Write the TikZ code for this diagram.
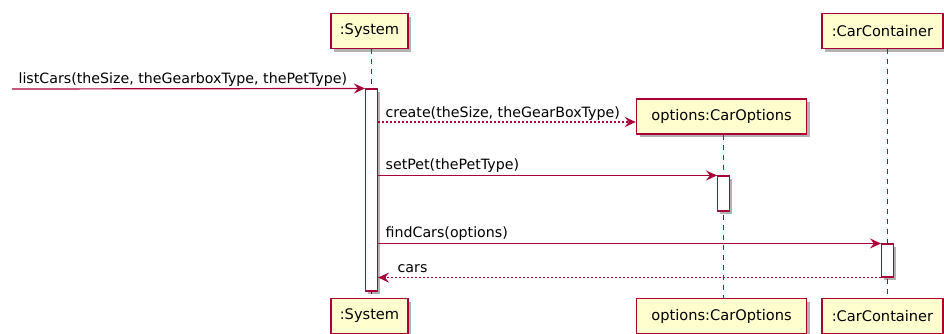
\documentclass[tikz,border=0pt]{standalone}
\usepackage{fontspec}
\setmainfont{DejaVu Sans}
\usetikzlibrary{arrows.meta,shadows}
\definecolor{umlborder}{HTML}{A80036}
\definecolor{umlfill}{HTML}{FEFECE}
\begin{document}
\begin{tikzpicture}[x=1pt,y=-1pt,
  participant/.style={draw=umlborder, line width=1.5pt, fill=umlfill,
    minimum height=35pt, inner sep=0pt, font=\fontsize{14.6}{16}\selectfont,
    drop shadow={shadow xshift=3pt, shadow yshift=-3pt, opacity=0.3, fill=black}},
  activation/.style={draw=umlborder, line width=1.1pt, fill=white,
    minimum width=12pt, inner sep=0pt,
    drop shadow={shadow xshift=2.5pt, shadow yshift=-2.5pt, opacity=0.3, fill=black}},
  lifeline/.style={draw=umlborder, line width=1.1pt, dash pattern=on 5pt off 5pt},
  msg/.style={draw=umlborder, line width=1.2pt,
    -{Stealth[length=11pt,width=10pt,inset=4pt]}},
  reply/.style={msg, dash pattern=on 2pt off 2pt},
  msglabel/.style={font=\fontsize{14.2}{16}\selectfont, anchor=base west,
    inner sep=0pt, text=black}]
  % page
  \fill[white] (0,0) rectangle (944,333);
  \useasboundingbox (0,0) rectangle (944,333);
  \clip (0,0) rectangle (944,333);

  % lifeline axes
  \coordinate (sysLL) at (371.5,0);
  \coordinate (optLL) at (723.5,0);
  \coordinate (ccLL)  at (887.5,0);

  % participants
  \node[participant, minimum width=77pt]  (sysTop) at (369.5,31)  {:System};
  \node[participant, minimum width=77pt]  (sysBot) at (369.5,316) {:System};
  \node[participant, minimum width=170pt] (optTop) at (721.5,116.5) {options:CarOptions};
  \node[participant, minimum width=170pt] (optBot) at (721.5,316) {options:CarOptions};
  \node[participant, minimum width=121pt] (ccTop)  at (882.5,31)  {:CarContainer};
  \node[participant, minimum width=121pt] (ccBot)  at (882.5,316) {:CarContainer};

  % lifelines
  \draw[lifeline] (sysTop.south -| sysLL) -- (sysBot.north -| sysLL);
  \draw[lifeline] (optTop.south -| optLL) -- (optBot.north -| optLL);
  \draw[lifeline] (ccTop.south -| ccLL)   -- (ccBot.north -| ccLL);

  % activation bars
  \node[activation, minimum height=202pt] (actSys) at (371.5,190) {};
  \node[activation, minimum height=35pt]  (actOpt) at (723.5,193.5) {};
  \node[activation, minimum height=33pt]  (actCC)  at (887.5,260.5) {};

  % messages
  \coordinate (caller) at (12,89);
  \coordinate (createY) at (0,122);
  \draw[msg] (caller) -- (actSys.north west)
    node[msglabel, pos=0, xshift=6pt, yshift=6pt] (lblList) {listCars(theSize, theGearboxType, thePetType)};
  \draw[reply] (actSys.east |- createY) -- (optTop.west |- createY)
    node[msglabel, pos=0, xshift=7pt, yshift=5pt] (lblCreate) {create(theSize, theGearBoxType)};
  \draw[msg] (actSys.east |- actOpt.north) -- (actOpt.north west)
    node[msglabel, pos=0, xshift=7pt, yshift=6pt] (lblSet) {setPet(thePetType)};
  \draw[msg] (actSys.east |- actCC.north) -- (actCC.north west)
    node[msglabel, pos=0, xshift=7pt, yshift=6pt] (lblFind) {findCars(options)};
  \draw[reply] (actCC.south west) -- (actSys.east |- actCC.south)
    node[msglabel, pos=1, xshift=19pt, yshift=5pt] (lblCars) {cars};
\end{tikzpicture}
\end{document}
